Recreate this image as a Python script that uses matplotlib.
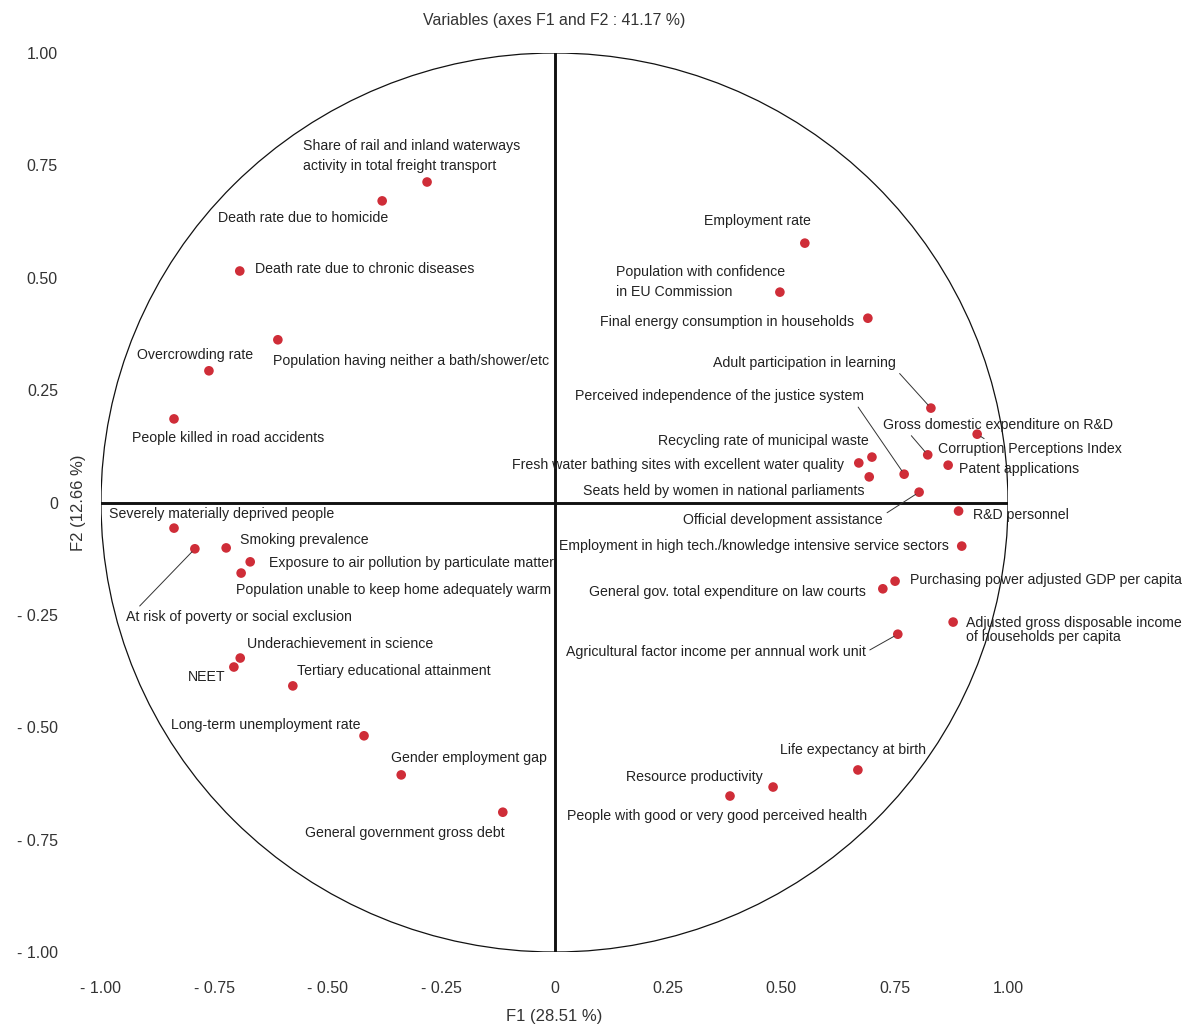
import matplotlib
matplotlib.use("Agg")
import matplotlib.pyplot as plt
from matplotlib.patches import Circle

plt.rcParams['font.family'] = ['Liberation Sans', 'DejaVu Sans']

# ---------------- data ----------------
variables = [
    "Share of rail and inland waterways\nactivity in total freight transport",
    "Death rate due to homicide",
    "Death rate due to chronic diseases",
    "Population having neither a bath/shower/etc",
    "Overcrowding rate",
    "People killed in road accidents",
    "Employment rate",
    "Population with confidence\nin EU Commission",
    "Final energy consumption in households",
    "Adult participation in learning",
    "Perceived independence of the justice system",
    "Gross domestic expenditure on R&D",
    "Corruption Perceptions Index",
    "Patent applications",
    "Recycling rate of municipal waste",
    "Fresh water bathing sites with excellent water quality",
    "Seats held by women in national parliaments",
    "Official development assistance",
    "R&D personnel",
    "Employment in high tech./knowledge intensive service sectors",
    "Purchasing power adjusted GDP per capita",
    "General gov. total expenditure on law courts",
    "Adjusted gross disposable income\nof households per capita",
    "Agricultural factor income per annnual work unit",
    "Life expectancy at birth",
    "Resource productivity",
    "People with good or very good perceived health",
    "Severely materially deprived people",
    "At risk of poverty or social exclusion",
    "Smoking prevalence",
    "Exposure to air pollution by particulate matter",
    "Population unable to keep home adequately warm",
    "Underachievement in science",
    "NEET",
    "Tertiary educational attainment",
    "Long-term unemployment rate",
    "Gender employment gap",
    "General government gross debt",
]
f1 = [-0.281, -0.380, -0.694, -0.610, -0.762, -0.839, 0.552, 0.497, 0.691, 0.830,
      0.771, 0.823, 0.932, 0.868, 0.700, 0.671, 0.694, 0.804, 0.891, 0.898,
      0.751, 0.724, 0.879, 0.757, 0.669, 0.482, 0.387, -0.839, -0.793, -0.724,
      -0.671, -0.691, -0.693, -0.707, -0.577, -0.420, -0.338, -0.114]
f2 = [0.713, 0.671, 0.515, 0.362, 0.293, 0.186, 0.577, 0.468, 0.410, 0.210,
      0.063, 0.106, 0.152, 0.083, 0.101, 0.088, 0.057, 0.023, -0.019, -0.097,
      -0.175, -0.192, -0.266, -0.293, -0.595, -0.633, -0.653, -0.057, -0.103, -0.101,
      -0.132, -0.157, -0.346, -0.366, -0.408, -0.519, -0.606, -0.689]

ticks = [-1.0, -0.75, -0.5, -0.25, 0.0, 0.25, 0.5, 0.75, 1.0]
tick_labels = ["- 1.00", "- 0.75", "- 0.50", "- 0.25", "0", "0.25", "0.50", "0.75", "1.00"]
title = "Variables (axes F1 and F2 : 41.17 %)"
xlabel = "F1 (28.51 %)"
ylabel = "F2 (12.66 %)"

# ---------------- label layout (pixel offsets from point, alignment, leader) ----------------
label_dx = [-124, -164, 15, -5, 44, -42, 6, -164, -14, -35,
            -40, -45, -39, 11, -3, -15, -5, -36, 14, -13,
            15, -17, 13, -32, -78, -10, -163, -65, -69, 14,
            19, -5, 7, -8, 4, -4, -10, 2]
label_dy = [26, -17, 2, -21, 16, -19, 22, 10, -4, 45,
            78, 30, -15, -4, 16, -2, -14, -28, -4, 0,
            1, -3, -8, -18, 20, 10, -20, 14, -68, 8,
            -1, -17, 14, -10, 15, 11, 17, -21]
label_ha = ['left', 'left', 'left', 'left', 'right', 'left', 'right', 'left', 'right', 'right',
            'right', 'left', 'left', 'left', 'right', 'right', 'right', 'right', 'left', 'right',
            'left', 'right', 'left', 'right', 'left', 'right', 'left', 'left', 'left', 'left',
            'left', 'left', 'left', 'right', 'left', 'right', 'left', 'right']
leader_relpos = {9: (1.0, 0.05), 10: (0.97, 0.0), 11: (0.11, 0.0), 12: (0.28, 1.0),
                 17: (1.0, 0.85), 23: (1.0, 0.5), 28: (0.045, 1.0)}

# ---------------- figure ----------------
W, H = 1188, 1029
fig = plt.figure(figsize=(W / 100, H / 100), dpi=100)
ax = fig.add_axes([101 / W, 1 - 952 / H, 907 / W, 899 / H])
ax.set_xlim(-1, 1)
ax.set_ylim(-1, 1)
for s in ax.spines.values():
    s.set_visible(False)

txt_col = '#222222'
fs_lab = 10.2

ax.add_patch(Circle((0, 0), 1.0, fill=False, ec='#111111', lw=0.9, zorder=1))
ax.axhline(0, color='#111111', lw=2.1, zorder=2)
ax.axvline(0, color='#111111', lw=2.1, zorder=2)

ax.scatter(f1, f2, s=48, color='#cf2d38', edgecolors='none', zorder=5)

for i, name in enumerate(variables):
    kw = {}
    if i in leader_relpos:
        kw['arrowprops'] = dict(arrowstyle='-', color='#333333', lw=0.7,
                                shrinkA=1, shrinkB=3, relpos=leader_relpos[i])
    lsp = 1.07 if i == 22 else 1.55
    ax.annotate(name, (f1[i], f2[i]), xytext=(label_dx[i], label_dy[i]),
                textcoords='offset pixels', ha=label_ha[i], va='center',
                fontsize=fs_lab, color=txt_col, linespacing=lsp,
                annotation_clip=False, zorder=6, **kw)

ax.set_xticks(ticks)
ax.set_xticklabels(tick_labels)
ax.set_yticks(ticks)
ax.set_yticklabels(tick_labels)
ax.tick_params(axis='both', length=0, labelsize=11.5, colors='#333333')
ax.tick_params(axis='x', pad=21)
ax.tick_params(axis='y', pad=31)

ax.set_xlabel(xlabel, fontsize=12, color='#333333')
ax.xaxis.set_label_coords(0.5, (952 - 1017) / 899)
ax.xaxis.label.set_va('center')
ax.set_ylabel(ylabel, fontsize=12, color='#333333')
ax.yaxis.set_label_coords((78 - 101) / 907, 0.5)
ax.yaxis.label.set_va('center')
ax.set_title(title, fontsize=11.4, color='#333333', pad=20)

fig.savefig("out.png", dpi=100)
